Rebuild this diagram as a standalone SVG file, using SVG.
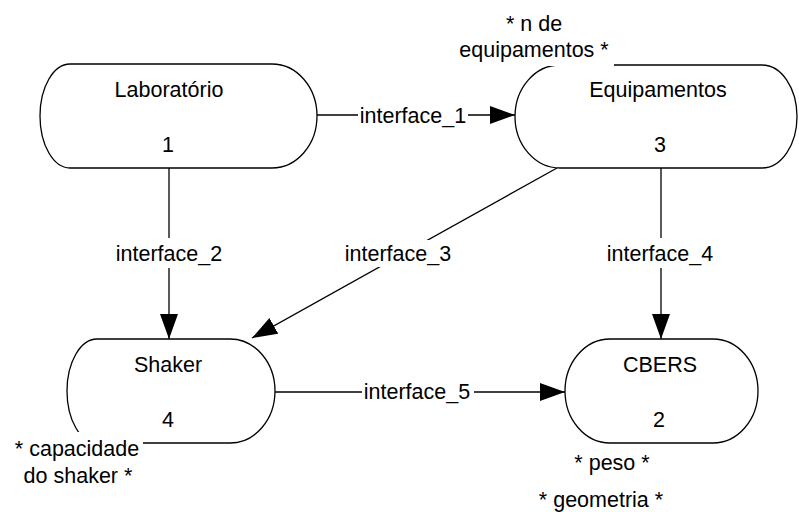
<svg xmlns="http://www.w3.org/2000/svg" width="799" height="512" viewBox="0 0 799 512">
<style>
text{font-family:"Liberation Sans",Arial,sans-serif;font-size:21.5px;fill:#000;text-anchor:middle}
.shape{fill:#fff;stroke:#000;stroke-width:1.3}
.conn{stroke:#000;stroke-width:1.3;fill:none;marker-end:url(#arrow)}
.bg{fill:#fff;stroke:none}
</style>
<defs>
<marker id="arrow" markerUnits="userSpaceOnUse" markerWidth="26" markerHeight="18" refX="25" refY="9" orient="auto">
<path d="M0,0 L25,9 L0,18 Z" fill="#000"/>
</marker>
</defs>
<rect width="799" height="512" fill="#fff"/>
<g id="connectors">
<path class="conn" d="M317,115 H515"/>
<path class="conn" d="M169,168 V339"/>
<path class="conn" d="M557,168 L252,338"/>
<path class="conn" d="M661,168 V339"/>
<path class="conn" d="M275,392 H565"/>
<rect class="bg" x="358" y="103" width="110" height="26"/>
<text x="413" y="123">interface_1</text>
<rect class="bg" x="112" y="238" width="114" height="30"/>
<text x="169" y="261">interface_2</text>
<rect class="bg" x="343" y="240" width="112" height="27"/>
<text x="398" y="261">interface_3</text>
<rect class="bg" x="604" y="238" width="114" height="30"/>
<text x="660" y="261">interface_4</text>
<rect class="bg" x="362" y="380" width="112" height="25"/>
<text x="417" y="399">interface_5</text>
</g>
<g id="laboratorio">
<path class="shape" d="M70,64 H272 A45,52 0 0 1 272,168 H70 A30,52 0 0 1 70,64 Z"/>
<text x="169" y="97">Laboratório</text>
<text x="168" y="152">1</text>
</g>
<g id="equipamentos">
<path class="shape" d="M560,65 H762 A35,51.5 0 0 1 762,168 H560 A45,51.5 0 0 1 560,65 Z"/>
<text x="658" y="97">Equipamentos</text>
<text x="660" y="152">3</text>
</g>
<g id="shaker">
<path class="shape" d="M97,339 H230 A45,52 0 0 1 230,443 H97 A30,52 0 0 1 97,339 Z"/>
<text x="168" y="372">Shaker</text>
<text x="168" y="427">4</text>
</g>
<g id="cbers">
<path class="shape" d="M610,339 H713 A45,52 0 0 1 713,443 H610 A45,52 0 0 1 610,339 Z"/>
<text x="660" y="372">CBERS</text>
<text x="659" y="427">2</text>
</g>
<g id="annotations">
<rect class="bg" x="455" y="8" width="159" height="58"/>
<text x="534" y="31">* n de</text>
<text x="534" y="57">equipamentos *</text>
<rect class="bg" x="5" y="432" width="138" height="58"/>
<text x="77" y="456">* capacidade</text>
<text x="78" y="483">do shaker *</text>
<text x="612" y="470">* peso *</text>
<text x="601" y="507">* geometria *</text>
</g>
</svg>
